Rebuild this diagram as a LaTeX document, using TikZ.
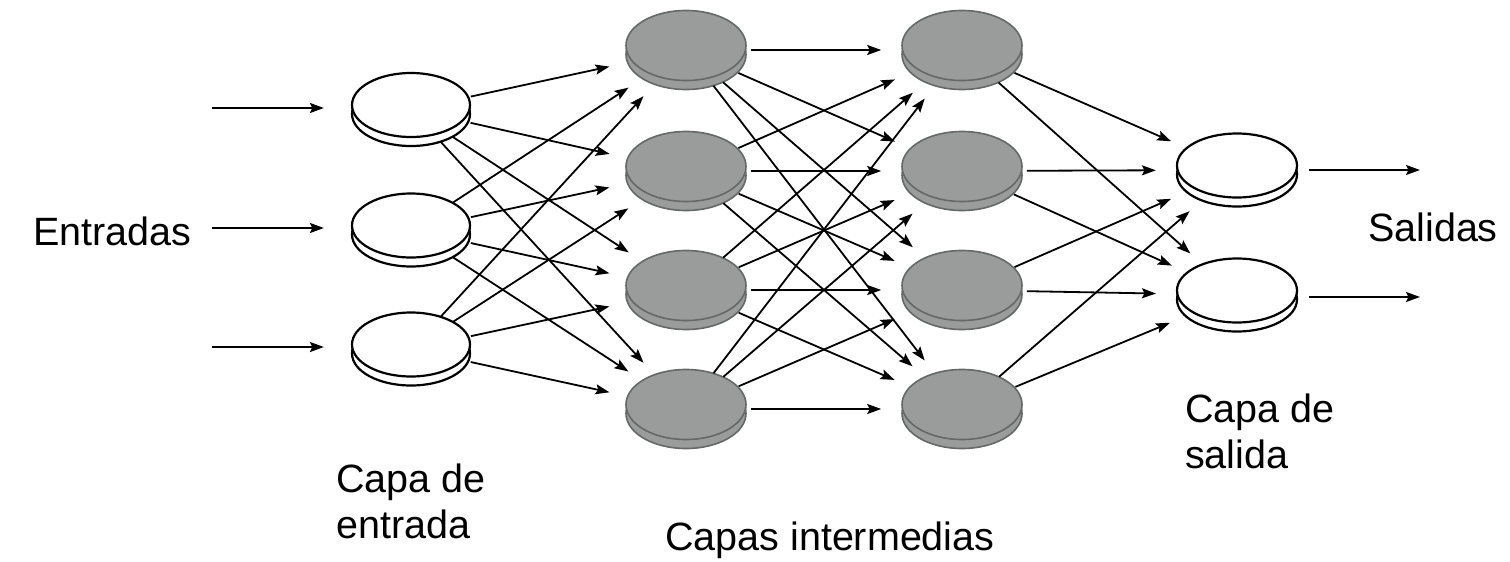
\documentclass[tikz,border=0pt]{standalone}
\usepackage{fontspec}
\setmainfont{Liberation Sans}
\usetikzlibrary{shapes.geometric,arrows.meta}

\definecolor{discgray}{HTML}{9A9C9C}
\definecolor{discedge}{HTML}{666868}

\tikzset{
  % a neuron: two stacked ellipses, the named node sits between them
  disc/.style 2 args={ellipse, inner sep=0pt, minimum width=120pt, minimum height=70pt,
    preaction={draw=#2, fill=#1, transform canvas={yshift=-4.5pt}},
    postaction={draw=#2, fill=#1, transform canvas={yshift=4.5pt}}},
  inunit/.style={disc={white}{black}, line width=2.2pt, minimum width=118pt, minimum height=64pt},
  hidunit/.style={disc={discgray}{discedge}, line width=1.6pt},
  outunit/.style={disc={white}{black}, line width=2.2pt, minimum width=120pt, minimum height=64pt},
  arr/.style={-{Stealth[length=14pt,width=10pt,inset=2.5pt]}, line width=1.8pt, black},
  link/.style={arr, shorten <=4pt, shorten >=20pt},
  lbl/.style={font=\fontsize{39.5}{46}\selectfont, inner sep=0pt, align=left},
}

\begin{document}
\begin{tikzpicture}[x=1pt, y=-1pt]
\useasboundingbox (0,0) rectangle (1510,562);

% input layer
\node[inunit] (i1) at (411,109.5) {};
\node[inunit] (i2) at (411,230) {};
\node[inunit] (i3) at (411,349) {};

% first hidden layer
\node[hidunit] (a1) at (686,50) {};
\node[hidunit] (a2) at (686,171) {};
\node[hidunit] (a3) at (686,290) {};
\node[hidunit] (a4) at (686,409) {};

% second hidden layer
\node[hidunit] (b1) at (962,50) {};
\node[hidunit] (b2) at (962,171) {};
\node[hidunit] (b3) at (962,290) {};
\node[hidunit] (b4) at (962,409) {};

% output layer
\node[outunit] (o1) at (1237,170) {};
\node[outunit] (o2) at (1237,295) {};

% free ends of the input and output arrows
\coordinate (e1) at (212,108);
\coordinate (e2) at (212,228);
\coordinate (e3) at (212,347);
\coordinate (s1) at (1420,170);
\coordinate (s2) at (1420,297);

% incoming signals
\foreach \k in {1,2,3}
  \draw[arr, shorten >=27pt] (e\k) -- (e\k -| i\k.west);

% full connections between consecutive layers
\foreach \a in {i1,i2,i3}
  \foreach \b in {a1,a2,a3,a4}
    \draw[link] (\a) -- (\b);
\foreach \a in {a1,a2,a3,a4}
  \foreach \b in {b1,b2,b3,b4}
    \draw[link] (\a) -- (\b);
\foreach \a in {b1,b2,b3,b4}
  \foreach \b in {o1,o2}
    \draw[link] (\a) -- (\b);

% outgoing signals
\draw[arr, shorten <=11pt] (o1.east |- s1) -- (s1);
\draw[arr, shorten <=11pt] (o2.east |- s2) -- (s2);

% labels
\node[lbl, anchor=base west] (tin) at (33,245) {Entradas};
\node[lbl, anchor=base west] (tout) at (1368,241) {Salidas};
\node[lbl, anchor=north west] (tlin) at (336,464) {Capa de\\entrada};
\node[lbl, anchor=base west] (tlhid) at (665,550) {Capas intermedias};
\node[lbl, anchor=north west] (tlout) at (1185,394) {Capa de\\salida};
\end{tikzpicture}
\end{document}
